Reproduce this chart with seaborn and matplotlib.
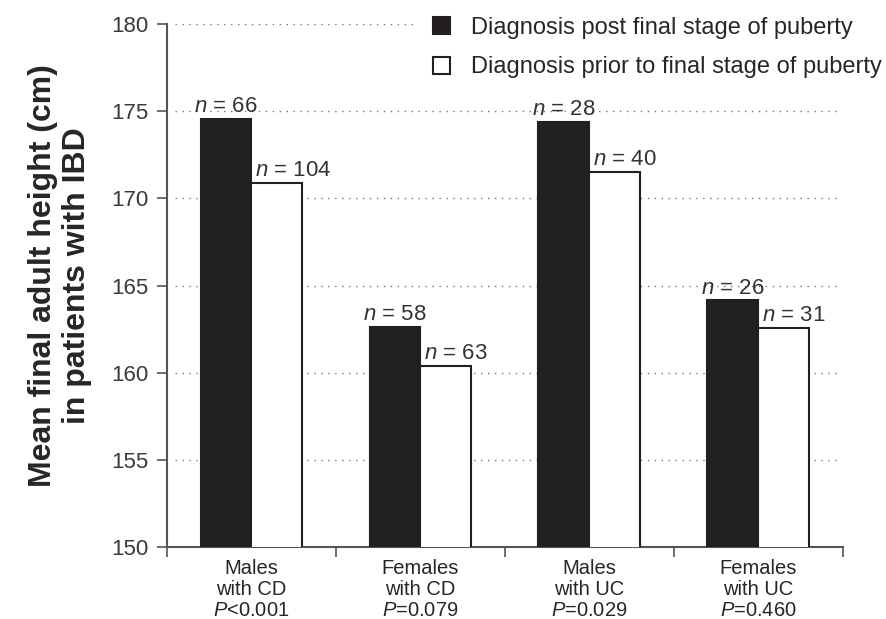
import matplotlib
matplotlib.use("Agg")
import matplotlib.pyplot as plt
import seaborn as sns
import pandas as pd
from matplotlib.patches import Patch

groups = ["Males\nwith CD\n$P$<0.001", "Females\nwith CD\n$P$=0.079",
          "Males\nwith UC\n$P$=0.029", "Females\nwith UC\n$P$=0.460"]
series = ["Diagnosis post final stage of puberty",
          "Diagnosis prior to final stage of puberty"]
post_vals = [174.55, 162.65, 174.4, 164.15]
prior_vals = [170.9, 160.4, 171.5, 162.6]
post_n = [66, 58, 28, 26]
prior_n = [104, 63, 40, 31]
yticks = [150, 155, 160, 165, 170, 175, 180]

sns.set_theme(style="white")
plt.rcParams["font.family"] = ["Liberation Sans", "DejaVu Sans"]
plt.rcParams["mathtext.fontset"] = "custom"
plt.rcParams["mathtext.it"] = "Liberation Sans:italic"
plt.rcParams["mathtext.rm"] = "Liberation Sans"

df = pd.DataFrame({
    "group": groups * 2,
    "series": [series[0]] * 4 + [series[1]] * 4,
    "height": post_vals + prior_vals,
})

fig = plt.figure(figsize=(8.87, 6.19), dpi=100)
ax = fig.add_axes([0.188, 0.116, 0.762, 0.845])

dark = "#231f20"
sns.barplot(data=df, x="group", y="height", hue="series", order=groups,
            hue_order=series, palette=[dark, "white"], width=0.6,
            edgecolor=dark, linewidth=1.5, ax=ax, legend=False, zorder=3)

ax.set_ylim(150, 180)
ax.set_xlim(-0.5, 3.5)
ax.set_yticks(yticks)
ax.set_yticklabels([str(v) for v in yticks], fontsize=16, color="#3d3a35")
for v in yticks[1:]:
    ax.axhline(v, color="#777777", linestyle=(0, (1, 4)), linewidth=1.0, zorder=1,
               xmin=0.012, xmax=0.995)

# x ticks at group boundaries, labels centred
ax.set_xticks([-0.5, 0.5, 1.5, 2.5, 3.5])
ax.set_xticklabels([])
ax.set_xticks([0, 1, 2, 3], minor=True)
ax.set_xticklabels(groups, minor=True, fontsize=14.5, linespacing=1.14)
ax.tick_params(axis="x", which="minor", length=0, pad=8.5)
ax.tick_params(axis="x", which="major", length=7, width=1.2, color="#555555",
               direction="out", bottom=True)
ax.tick_params(axis="y", length=7, width=1.2, color="#555555", direction="out",
               left=True, pad=6)

for s in ["top", "right"]:
    ax.spines[s].set_visible(False)
for s in ["left", "bottom"]:
    ax.spines[s].set_color("#555555")
    ax.spines[s].set_linewidth(1.5)

ax.set_xlabel("")
ax.set_ylabel("Mean final adult height (cm)\nin patients with IBD", fontsize=23,
              fontweight="bold", labelpad=14, linespacing=1.18)
ax.yaxis.label.set_y(0.52)

for k, (cont, ns) in enumerate(zip(ax.containers, [post_n, prior_n])):
    for patch, n in zip(cont.patches, ns):
        top = patch.get_y() + patch.get_height()
        if k == 0:
            x = patch.get_x() + patch.get_width() / 2
            ha = "center"
            dx = 0
        else:
            x = patch.get_x()
            ha = "left"
            dx = 3
        ax.annotate(f"$n$ = {n}", (x, top), xytext=(dx, 5),
                    textcoords="offset points", ha=ha, va="baseline",
                    fontsize=16, color="#333333", zorder=4)

handles = [Patch(facecolor=dark, edgecolor=dark, linewidth=1.5),
           Patch(facecolor="white", edgecolor=dark, linewidth=1.5)]
leg = fig.legend(handles, series, loc="upper left",
                 bbox_to_anchor=(0.4656, 1.005),
                 frameon=True, facecolor="white", edgecolor="none", framealpha=1,
                 fancybox=False, fontsize=17, handlelength=0.72,
                 handleheight=0.72, handletextpad=0.9, labelspacing=0.74,
                 borderpad=0.85, borderaxespad=0)

fig.savefig("out.png", dpi=100, facecolor="white")
